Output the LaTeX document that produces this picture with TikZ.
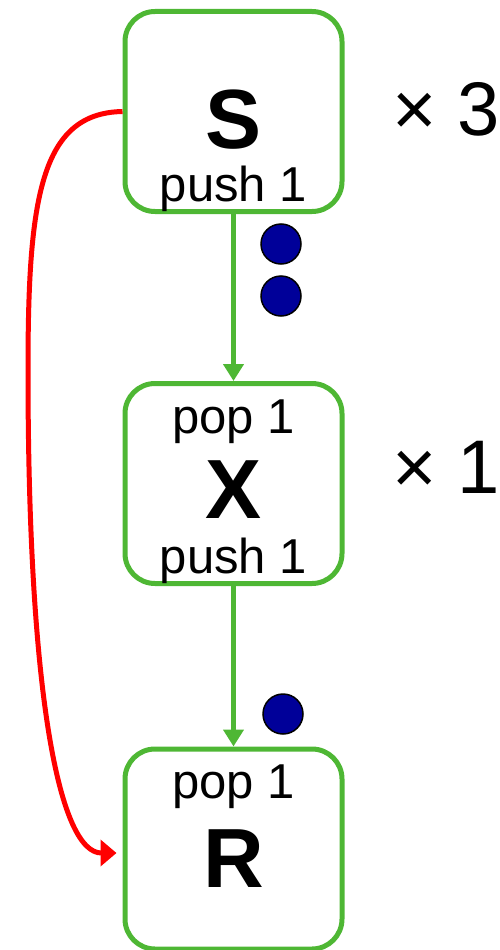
\documentclass[tikz,border=0pt]{standalone}
\usepackage{fontspec}
\setmainfont{Liberation Sans}
\usetikzlibrary{arrows.meta, positioning}
\definecolor{stagegreen}{RGB}{78,183,52}
\definecolor{itemblue}{RGB}{0,0,153}
\definecolor{backred}{RGB}{255,0,0}

\begin{document}
\begin{tikzpicture}[
  x=1pt, y=-1pt,
  box/.style={draw=stagegreen, line width=5pt, rounded corners=30pt,
              minimum width=217pt, minimum height=200pt},
  letter/.style={font=\fontsize{84}{84}\selectfont\bfseries, inner sep=0pt, anchor=base},
  rate/.style={font=\fontsize{49}{49}\selectfont, inner sep=0pt, anchor=base},
  mult/.style={font=\fontsize{76}{76}\selectfont, inner sep=0pt, anchor=base west},
  tok/.style={circle, draw=black, line width=1.5pt, fill=itemblue,
              minimum size=40pt, inner sep=0pt},
  flow/.style={-{Triangle[length=17pt, width=20pt]}, draw=stagegreen, line width=4.5pt},
  bypass/.style={-{Triangle[length=16pt, width=26pt]}, draw=backred, line width=5pt}
]
\useasboundingbox (0,0) rectangle (500,950);

% the three stages, top to bottom
\node[box] (S) at (233.5,111.5) {};
\node[box, below=167pt of S] (X) {};
\node[box, below=160.5pt of X] (R) {};

\node[letter] (Sname) at ([yshift=-36.5pt]S.center) {S};
\node[rate] (Spush) at ([yshift=-90pt]S.center) {push 1};
\node[rate] (Xpop) at ([yshift=50.5pt]X.center) {pop 1};
\node[letter] (Xname) at ([yshift=-34.5pt]X.center) {X};
\node[rate] (Xpush) at ([yshift=-89.5pt]X.center) {push 1};
\node[rate] (Rpop) at ([yshift=51pt]R.center) {pop 1};
\node[letter] (Rname) at ([yshift=-38pt]R.center) {R};

\node[mult] (Smult) at (392,135) {× 3};
\node[mult] (Xmult) at (392,493) {× 1};

% items waiting on the channels
\node[tok] (t1) at (281,244) {};
\node[tok] (t2) at (281,296) {};
\node[tok] (t3) at (283,714) {};

\draw[flow] (S) -- (X);
\draw[flow] (X) -- (R);
\draw[bypass] (S.west) .. controls (40,113) and (28,200) .. (28,370)
  .. controls (28,700) and (60,853) .. ([xshift=-6pt, yshift=-4pt]R.west);

\end{tikzpicture}
\end{document}
